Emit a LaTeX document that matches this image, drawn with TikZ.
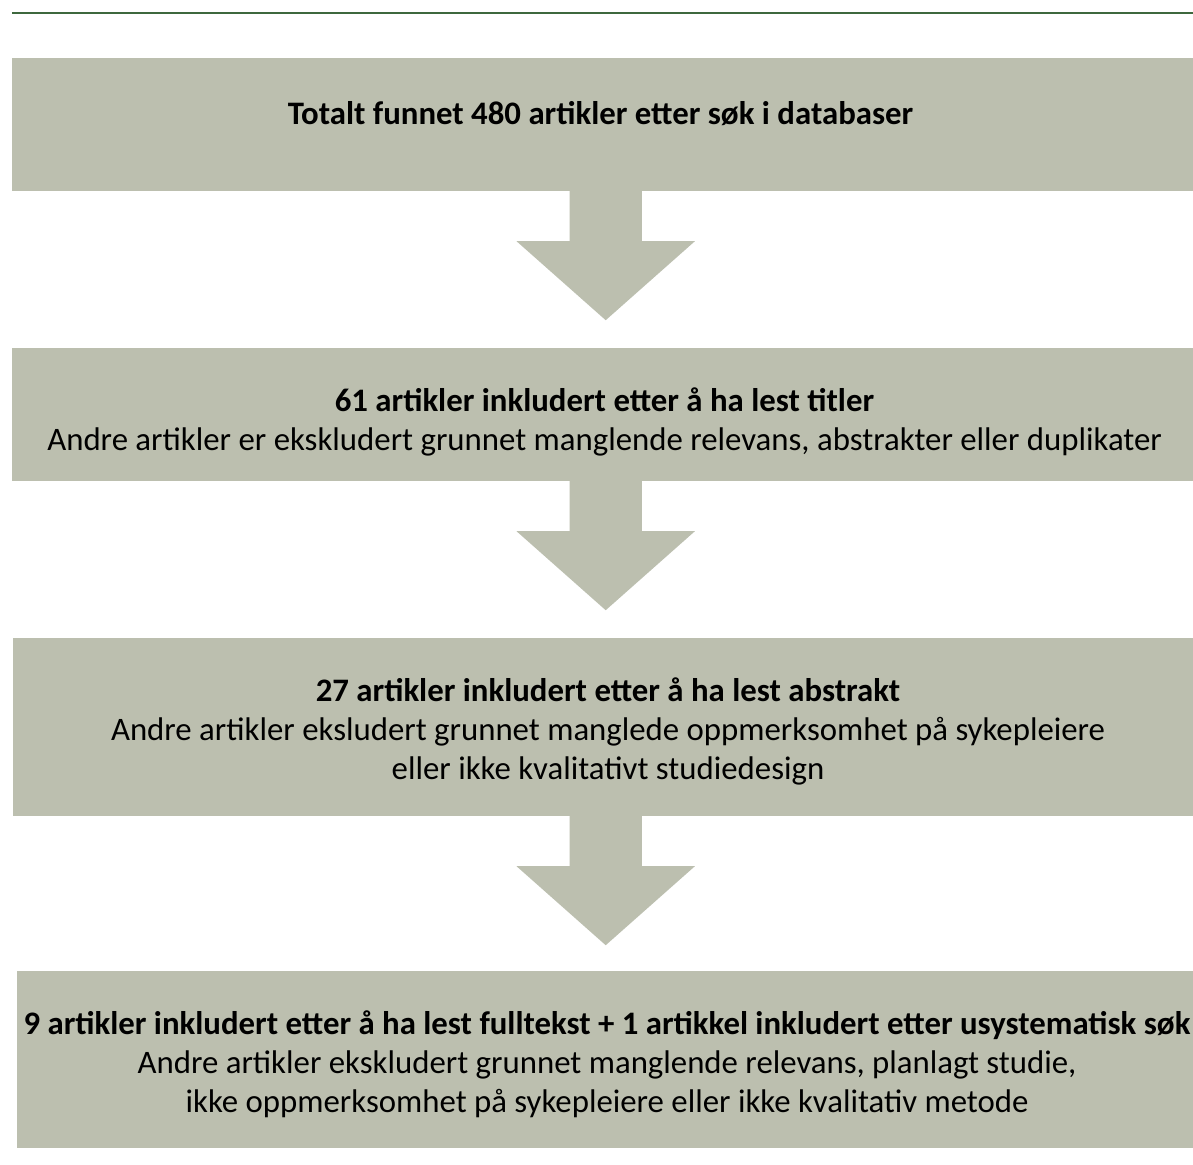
\documentclass[tikz,border=0pt]{standalone}
\usepackage{fontspec}
\setmainfont{Carlito}
\usetikzlibrary{positioning,calc}
\definecolor{boxgray}{RGB}{188,191,175}
\definecolor{rulegreen}{RGB}{62,104,62}

\begin{document}
\begin{tikzpicture}[x=1pt, y=-1pt]
\tikzstyle{box}=[rectangle, fill=boxgray, draw=none, inner sep=0pt]
\tikzstyle{txt}=[align=center, inner sep=0pt, text=black, font=\fontsize{32.8}{39.3}\selectfont]
\tikzstyle{arrowfill}=[fill=boxgray]
\useasboundingbox (0,0) rectangle (1193,1164);
\fill[white] (0,0) rectangle (1193,1164);
\draw[rulegreen, line width=2.5pt] (12,13) -- (1193,13);
\node[box, minimum width=1181, minimum height=133] (b1) at (602.5,124.5) {};
\node[box, minimum width=1181, minimum height=133] (b2) at (602.5,414.5) {};
\node[box, minimum width=1180, minimum height=178] (b3) at (603,727) {};
\node[box, minimum width=1176, minimum height=177] (b4) at (605,1059.5) {};
% anchor=base sits on the last line
\node[txt, anchor=base] (t1) at ($(b1.north)+(-2,67)$) {\textbf{Totalt funnet 480 artikler etter søk i databaser}};
\node[txt, anchor=base] (t2) at ($(b2.north)+(2,103)$) {\textbf{61 artikler inkludert etter å ha lest titler}\\
  Andre artikler er ekskludert grunnet manglende relevans, abstrakter eller duplikater};
\node[txt, anchor=base] (t3) at ($(b3.north)+(5,142)$) {\textbf{27 artikler inkludert etter å ha lest abstrakt}\\
  Andre artikler eksludert grunnet manglede oppmerksomhet på sykepleiere\\
  eller ikke kvalitativt studiedesign};
\node[txt, anchor=base] (t4) at ($(b4.north)+(2,142)$) {\textbf{9 artikler inkludert etter å ha lest fulltekst + 1 artikkel inkludert etter usystematisk søk}\\
  Andre artikler ekskludert grunnet manglende relevans, planlagt studie,\\
  ikke oppmerksomhet på sykepleiere eller ikke kvalitativ metode};
\coordinate (mid) at (605.7,0);
\foreach \from in {b1,b2,b3}
  \fill[arrowfill] (\from.south -| mid) ++(-36.2,0) -- ++(0,50) -- ++(-53,0) -- ++(89.2,79) -- ++(89.2,-79) -- ++(-53,0) -- ++(0,-50) -- cycle;
\end{tikzpicture}
\end{document}
